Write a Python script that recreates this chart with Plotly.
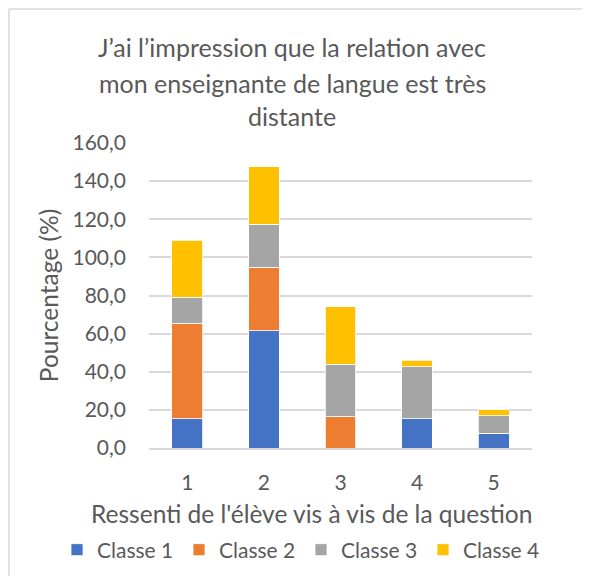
import plotly.graph_objects as go

categories = ["1", "2", "3", "4", "5"]
classe1 = [15.4, 61.5, 0.0, 15.4, 7.7]
classe2 = [50.0, 33.3, 16.7, 0.0, 0.0]
classe3 = [13.6, 22.7, 27.3, 27.3, 9.1]
classe4 = [30.0, 30.0, 30.0, 3.3, 3.3]
series_names = ["Classe 1", "Classe 2", "Classe 3", "Classe 4"]
colors = ["#4472C4", "#ED7D31", "#A5A5A5", "#FFC000"]
title_lines = ["J’ai l’impression que la relation avec",
               "mon enseignante de langue est très",
               "distante"]
x_title = "Ressenti de l'élève vis à vis de la question"
y_title = "Pourcentage (%)"

FONT = "Lato, 'Open Sans', sans-serif"
TXT = "#595959"
W, H = 574, 568
L, R, T, B = 141, 50, 135, 128
PW, PH = W - L - R, H - T - B

fig = go.Figure()
for name, vals, col in zip(series_names, [classe1, classe2, classe3, classe4], colors):
    fig.add_trace(go.Bar(x=categories, y=vals, name=name,
                         marker=dict(color=col, line=dict(color="white", width=0.8))))

fig.update_layout(
    barmode="stack",
    bargap=0.6,
    width=W, height=H,
    margin=dict(l=L, r=R, t=T, b=B, autoexpand=False),
    paper_bgcolor="white", plot_bgcolor="white",
    separators=", ",
    font=dict(family=FONT, color=TXT, size=21),
    showlegend=True,
    legend=dict(orientation="h", xref="paper", x=(49 - L) / PW, xanchor="left",
                yref="paper", y=(H - B - 542) / PH, yanchor="middle", entrywidth=77,
                font=dict(size=21, color=TXT), traceorder="normal"),
    xaxis=dict(showgrid=False, showline=True, linecolor="#D9D9D9", linewidth=1.5,
               ticks="", tickfont=dict(size=21, color=TXT), ticklabelstandoff=15),
    yaxis=dict(range=[0, 160], dtick=20, tickformat=".1f", showgrid=True,
               gridcolor="#D9D9D9", gridwidth=1.5, zeroline=False, showline=False,
               ticks="", tickfont=dict(size=21, color=TXT), ticklabelstandoff=22,
               title=dict(text=y_title, font=dict(size=24.5, color=TXT), standoff=6)),
    shapes=[
        dict(type="line", xref="paper", yref="paper",
             x0=(1 - L) / PW, x1=(W + 5 - L) / PW,
             y0=(H - B - 1) / PH, y1=(H - B - 1) / PH,
             line=dict(color="#D9D9D9", width=1.5), layer="below"),
        dict(type="line", xref="paper", yref="paper",
             x0=(1 - L) / PW, x1=(1 - L) / PW,
             y0=(H - B - 1) / PH, y1=-(B + 5) / PH,
             line=dict(color="#D9D9D9", width=1.5), layer="below"),
    ],
)

ys = [39, 75, 108]
for line, yp in zip(title_lines, ys):
    fig.add_annotation(text=line, xref="paper", yref="paper",
                       x=(284 - L) / PW, y=(H - B - yp) / PH,
                       xanchor="center", yanchor="middle", showarrow=False,
                       font=dict(size=25, color=TXT, family=FONT))

fig.add_annotation(text=x_title, xref="paper", yref="paper",
                   x=(303 - L) / PW, y=(H - B - 505) / PH,
                   xanchor="center", yanchor="middle", showarrow=False,
                   font=dict(size=24.5, color=TXT, family=FONT))

fig.write_html("out.html")
